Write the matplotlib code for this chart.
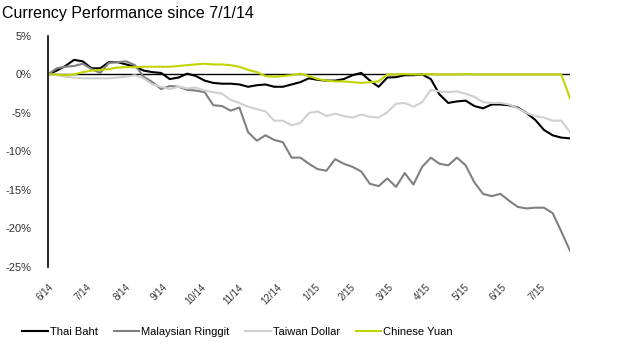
import pandas as pd
import matplotlib
matplotlib.use("Agg")
import matplotlib.pyplot as plt

plt.rcParams["font.family"] = ["Liberation Sans", "DejaVu Sans"]

# weekly observations, % change since start
weeks = pd.date_range("2014-06-30", periods=61, freq="7D")

thai_baht = [0, 0.5, 1.1, 1.9, 1.7, 0.8, 0.8, 1.6, 1.6, 1.3,
             1.0, 0.5, 0.3, 0.2, -0.6, -0.4, 0.1, -0.2, -0.8, -1.1,
             -1.2, -1.2, -1.3, -1.6, -1.4, -1.3, -1.6, -1.6, -1.3, -1.0,
             -0.5, -0.7, -0.8, -0.8, -0.6, -0.1, 0.2, -0.8, -1.6, -0.4,
             -0.35, -0.1, -0.1, 0.0, -0.6, -2.6, -3.7, -3.5, -3.4, -4.1,
             -4.4, -3.9, -3.9, -4.0, -4.3, -5.0, -5.9, -7.2, -7.9, -8.2,
             -8.3]
malaysian_ringgit = [0, 0.8, 1.0, 1.1, 1.4, 0.7, 0.2, 1.5, 1.6, 1.7,
                     1.2, -0.3, -1.0, -1.9, -1.5, -1.6, -2.0, -2.1, -2.3, -4.0,
                     -4.1, -4.7, -4.3, -7.5, -8.6, -7.9, -8.5, -8.8, -10.8, -10.8,
                     -11.6, -12.3, -12.5, -11.0, -11.6, -12.0, -12.6, -14.2, -14.5, -13.5,
                     -14.6, -12.8, -14.3, -12.0, -10.8, -11.6, -11.8, -10.8, -11.8, -14.0,
                     -15.5, -15.8, -15.5, -16.4, -17.2, -17.4, -17.3, -17.3, -18.0, -20.4,
                     -22.9]
taiwan_dollar = [0, -0.1, -0.3, -0.4, -0.5, -0.5, -0.5, -0.5, -0.4, -0.3,
                 -0.1, -0.5, -1.3, -1.6, -1.9, -1.6, -1.8, -1.7, -2.1, -2.3,
                 -2.5, -3.3, -3.7, -4.2, -4.5, -4.8, -6.0, -6.0, -6.6, -6.3,
                 -5.0, -4.8, -5.4, -5.1, -5.4, -5.6, -5.2, -5.5, -5.6, -4.9,
                 -3.8, -3.7, -4.2, -3.6, -2.0, -2.2, -2.3, -2.2, -2.5, -2.9,
                 -3.6, -3.7, -3.7, -3.9, -4.4, -5.0, -5.4, -5.6, -6.0, -6.0,
                 -7.5]
chinese_yuan = [0, 0, -0.1, 0.0, 0.3, 0.5, 0.6, 0.7, 0.9, 0.95,
                0.95, 1.0, 1.0, 1.0, 1.0, 1.1, 1.2, 1.3, 1.4, 1.3,
                1.3, 1.2, 1.0, 0.6, 0.3, -0.2, -0.3, -0.2, -0.1, 0.1,
                -0.2, -0.6, -0.8, -0.9, -0.9, -1.0, -1.1, -1.0, -0.9, 0.0,
                0.0, 0.05, 0.0, 0.0, 0.05, 0.0, 0.0, 0.0, 0.05, 0.0,
                0.0, 0.0, 0.0, 0.0, 0.0, 0.0, 0.0, 0.0, 0.0, 0.0,
                -3.1]

series_names = ["Thai Baht", "Malaysian Ringgit", "Taiwan Dollar", "Chinese Yuan"]
series_colors = ["#000000", "#808080", "#D0D0D0", "#C0D400"]
y_ticks = [5, 0, -5, -10, -15, -20, -25]
month_ticks = pd.date_range("2014-06-30", "2015-07-31", freq="ME")

fig = plt.figure(figsize=(6.2, 3.49), dpi=100)
ax = fig.add_axes([0.0774, 0.235, 0.842, 0.662])

for name, values, color in zip(series_names,
                                [thai_baht, malaysian_ringgit, taiwan_dollar, chinese_yuan],
                                series_colors):
    ax.plot(weeks, values, color=color, lw=1.5, label=name)

ax.axhline(0, color="black", lw=1, zorder=0)
ax.set_xlim(weeks[0], weeks[-1])
ax.set_ylim(-25, 5)
ax.set_yticks(y_ticks)
ax.set_yticklabels([f"{t}%" for t in y_ticks], fontsize=8, color="#333333")
ax.set_xticks(month_ticks)
ax.set_xticklabels([f"{d.month}/{d.strftime('%y')}" for d in month_ticks],
                   rotation=45, ha="right", rotation_mode="anchor", fontsize=7, color="#333333")
ax.tick_params(axis="both", length=0)
ax.tick_params(axis="x", pad=11)
ax.tick_params(axis="y", pad=12)
for side in ["top", "right", "bottom"]:
    ax.spines[side].set_visible(False)
ax.spines["left"].set_linewidth(1.2)

fig.text(0.003, 0.962, "Currency Performance since 7/1/14", fontsize=11.5, va="center")
fig.legend(loc="lower left", bbox_to_anchor=(0.02, 0.005), ncol=4, frameon=False,
           fontsize=8, handlelength=2.3, handletextpad=0.2, columnspacing=1.4)

fig.savefig("out.png", dpi=100)
